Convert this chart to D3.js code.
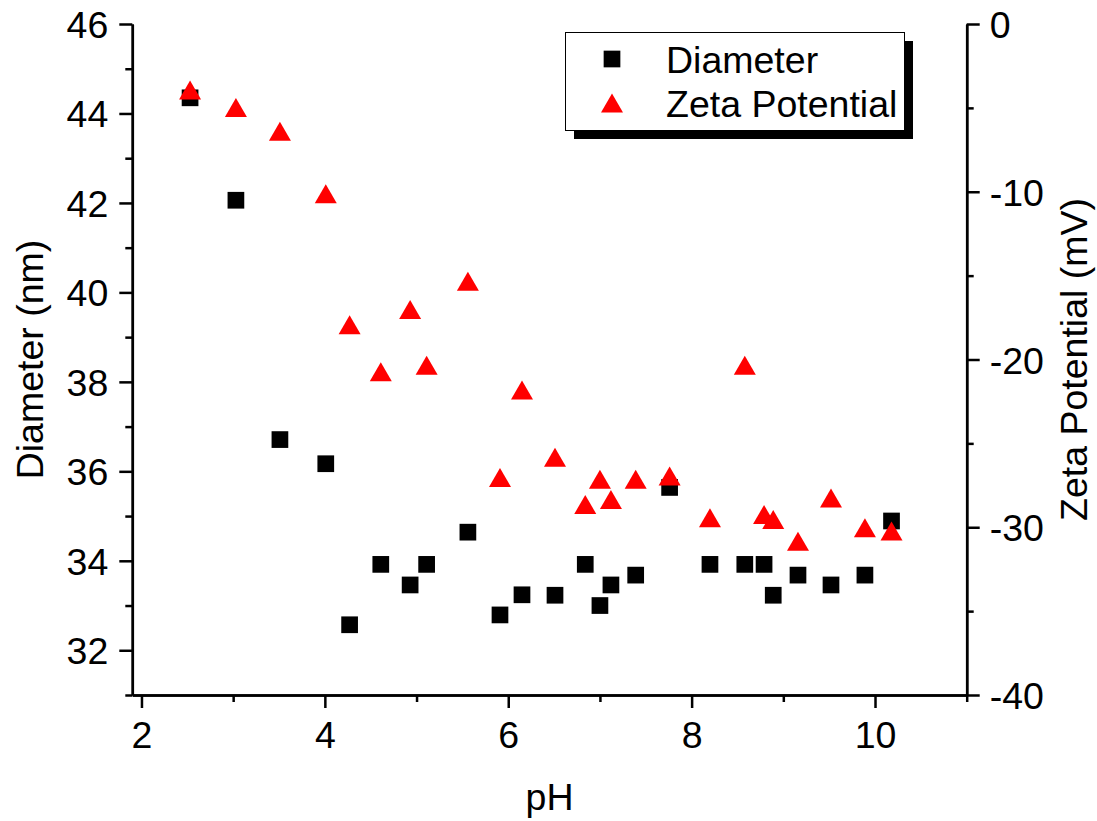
<!DOCTYPE html>
<html>
<head>
<meta charset="utf-8">
<script src="https://cdn.jsdelivr.net/npm/d3@7"></script>
<style>
  body { margin: 0; background: #fff; }
  svg { display: block; font-family: "Liberation Sans", Arial, sans-serif; }
  .axis path, .axis line { stroke: #000; stroke-width: 2.5; }
  .axis text { font-size: 37.5px; fill: #000; font-family: "Liberation Sans", Arial, sans-serif; }
</style>
</head>
<body>
<div id="chart"></div>
<script>
// pH values shared by both series
const pH = [2.53, 3.03, 3.51, 4.01, 4.27, 4.61, 4.93, 5.11, 5.56, 5.91, 6.15, 6.51, 6.84,
            7.00, 7.12, 7.39, 7.76, 8.20, 8.58, 8.79, 8.89, 9.16, 9.52, 9.89, 10.18];
// Diameter (nm)
const diameter = [44.35, 42.06, 36.71, 36.17, 32.57, 33.92, 33.46, 33.92, 34.64, 32.79, 33.24, 33.23, 33.92,
                  33.00, 33.46, 33.68, 35.64, 33.92, 33.92, 33.92, 33.23, 33.68, 33.46, 33.68, 34.89];
// Zeta potential (mV)
const zeta = [-3.93, -4.98, -6.39, -10.12, -17.93, -20.73, -17.02, -20.35, -15.34, -27.03, -21.82, -25.83, -28.64,
              -27.14, -28.35, -27.14, -26.94, -29.44, -20.35, -29.24, -29.54, -30.83, -28.25, -30.03, -30.22];

const xTicks = [2, 4, 6, 8, 10];
const xMinor = [3, 5, 7, 9, 11];
const leftTicks = [32, 34, 36, 38, 40, 42, 44, 46];
const leftMinor = [31, 33, 35, 37, 39, 41, 43, 45];
const rightTicks = [0, -10, -20, -30, -40];
const rightMinor = [-5, -15, -25, -35];

const W = 1097, H = 821;
const plotL = 132.3, plotR = 966.7, plotT = 24, plotB = 695;
const fs = 37.5;

const svg = d3.select('#chart').append('svg')
  .attr('width', W).attr('height', H);

const x = d3.scaleLinear().domain([1.9, 11]).range([plotL, plotR]);
const yL = d3.scaleLinear().domain([31, 46]).range([plotB, plotT]);
const yR = d3.scaleLinear().domain([-40, 0]).range([plotB, plotT]);

// plain hyphen for negatives, like the original
const plain = d => String(d);

// minor ticks first, then major axes on top
svg.append('g').attr('class', 'axis').attr('transform', `translate(0,${plotB})`)
  .call(d3.axisBottom(x).tickValues(xMinor).tickSize(7).tickSizeOuter(0).tickFormat(''));
svg.append('g').attr('class', 'axis').attr('transform', `translate(${plotL},0)`)
  .call(d3.axisLeft(yL).tickValues(leftMinor).tickSize(7).tickSizeOuter(0).tickFormat(''));
svg.append('g').attr('class', 'axis').attr('transform', `translate(${plotR},0)`)
  .call(d3.axisRight(yR).tickValues(rightMinor).tickSize(7).tickSizeOuter(0).tickFormat(''));

const xAxis = svg.append('g').attr('class', 'axis').attr('transform', `translate(0,${plotB})`)
  .call(d3.axisBottom(x).tickValues(xTicks).tickSize(13).tickSizeOuter(0).tickFormat(plain));
xAxis.selectAll('text').attr('dy', null).attr('y', 53);

const lAxis = svg.append('g').attr('class', 'axis').attr('transform', `translate(${plotL},0)`)
  .call(d3.axisLeft(yL).tickValues(leftTicks).tickSize(13).tickSizeOuter(0).tickPadding(11).tickFormat(plain));
lAxis.selectAll('text').attr('dy', '0.36em');

const rAxis = svg.append('g').attr('class', 'axis').attr('transform', `translate(${plotR},0)`)
  .call(d3.axisRight(yR).tickValues(rightTicks).tickSize(13).tickSizeOuter(0).tickPadding(10).tickFormat(plain));
rAxis.selectAll('text').attr('dy', '0.36em');

// axis titles
svg.append('text')
  .attr('transform', `translate(43,${(plotT + plotB) / 2}) rotate(-90)`)
  .attr('text-anchor', 'middle').attr('font-size', fs).text('Diameter (nm)');
svg.append('text')
  .attr('transform', `translate(1087,${(plotT + plotB) / 2}) rotate(-90)`)
  .attr('text-anchor', 'middle').attr('font-size', fs).text('Zeta Potential (mV)');
svg.append('text')
  .attr('x', (plotL + plotR) / 2).attr('y', 810)
  .attr('text-anchor', 'middle').attr('font-size', fs).text('pH');

// markers
const sq = 16.7;
const triW = 22, triH = 19;
const triPath = `M0,${-triH / 2}L${triW / 2},${triH / 2}L${-triW / 2},${triH / 2}Z`;

const pts = pH.map((p, i) => ({pH: p, d: diameter[i], z: zeta[i]}));

svg.append('g').selectAll('rect').data(pts).enter().append('rect')
  .attr('x', d => x(d.pH) - sq / 2)
  .attr('y', d => yL(d.d) - sq / 2)
  .attr('width', sq).attr('height', sq)
  .attr('fill', '#000');

svg.append('g').selectAll('path').data(pts).enter().append('path')
  .attr('transform', d => `translate(${x(d.pH)},${yR(d.z)})`)
  .attr('d', triPath)
  .attr('fill', '#ff0000');

// legend with drop shadow
const lg = svg.append('g');
lg.append('rect').attr('x', 574).attr('y', 41).attr('width', 339).attr('height', 98).attr('fill', '#000');
lg.append('rect').attr('x', 565.5).attr('y', 32.5).attr('width', 339).attr('height', 98)
  .attr('fill', '#fff').attr('stroke', '#000').attr('stroke-width', 1);
lg.append('rect').attr('x', 612 - sq / 2).attr('y', 59 - sq / 2).attr('width', sq).attr('height', sq).attr('fill', '#000');
lg.append('path').attr('transform', 'translate(612,103)').attr('d', triPath).attr('fill', '#ff0000');
lg.append('text').attr('x', 666).attr('y', 72.7).attr('font-size', fs).text('Diameter');
lg.append('text').attr('x', 666).attr('y', 116.7).attr('font-size', fs).text('Zeta Potential');
</script>
</body>
</html>
